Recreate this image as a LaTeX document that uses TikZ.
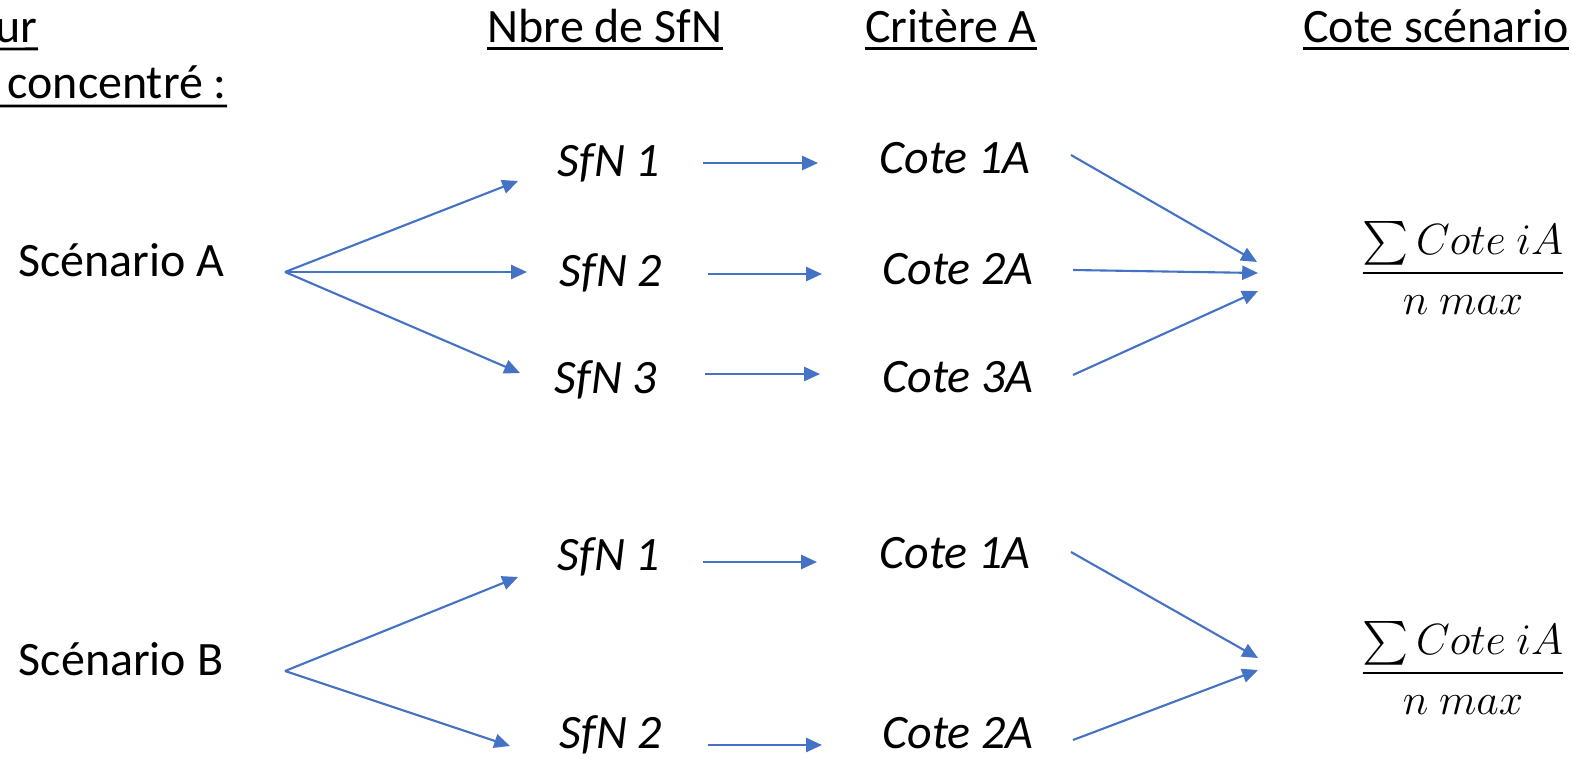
\documentclass[tikz,border=0pt]{standalone}
\usepackage{amsmath}
\usepackage{fontspec}
\setmainfont{Carlito}
\usetikzlibrary{arrows.meta}
\definecolor{arrowblue}{HTML}{4472C4}
\begin{document}
\begin{tikzpicture}[x=0.02cm,y=-0.02cm,
  lbl/.style={inner sep=0pt,anchor=base,font=\fontsize{27.3}{32}\selectfont},
  itl/.style={lbl,font=\fontsize{27.3}{32}\selectfont\itshape},
  frac/.style={inner sep=0pt,font=\fontsize{27}{32}\selectfont},
  conn/.style={draw=arrowblue,line width=1.2pt,-{Triangle[length=9pt,width=8pt]}},
  uline/.style={line width=1.6pt}]
\useasboundingbox (0,0) rectangle (1572,761);
% headers
\node[lbl,anchor=base east] (h0) at (38,42) {ur};
\node[lbl,anchor=base east] (h0b) at (227,98) {concentré :};
\node[lbl] (h1) at (605,42) {Nbre de SfN};
\node[lbl] (h2) at (951,42) {Critère A};
\node[lbl,anchor=base west] (h3) at (1303,42) {Cote scénario};
\draw[uline] (0,49) -- ([yshift=-3.9pt]h0.base east);
\draw[uline] (0,106) -- ([yshift=-4.5pt]h0b.base east);
\foreach \n in {h1,h2,h3}{\draw[uline] ([yshift=-3.6pt]\n.base west) -- ([yshift=-3.6pt]\n.base east);}
% scenario A
\node[lbl] (sa) at (121,276) {Scénario A};
\node[itl] (sfA1) at (609,176) {SfN 1};
\node[itl] (sfA2) at (611,286) {SfN 2};
\node[itl] (sfA3) at (606,393) {SfN 3};
\node[itl] (coA1) at (955,173) {Cote 1A};
\node[itl] (coA2) at (958,284) {Cote 2A};
\node[itl] (coA3) at (958,392) {Cote 3A};
\node[frac] (frA) at (1463,268) {$\dfrac{\sum Cote\ iA}{n\ max}$};
\coordinate (fa) at (285,272);
\coordinate (fa1) at (518,181);
\coordinate (fa2) at (527,272);
\coordinate (fa3) at (520,373);
\coordinate (ma1s) at (703,163); \coordinate (ma1e) at (818,163);
\coordinate (ma2s) at (708,274); \coordinate (ma2e) at (822,274);
\coordinate (ma3s) at (705,374); \coordinate (ma3e) at (820,374);
\coordinate (ra1s) at (1071,155); \coordinate (ra1e) at (1257,262);
\coordinate (ra2s) at (1073,270); \coordinate (ra2e) at (1258,273);
\coordinate (ra3s) at (1073,375); \coordinate (ra3e) at (1258,291);
\foreach \e in {fa1,fa2,fa3}{\draw[conn] (fa) -- (\e);}
\foreach \i in {1,2,3}{\draw[conn] (ma\i s) -- (ma\i e); \draw[conn] (ra\i s) -- (ra\i e);}
% scenario B
\node[lbl] (sb) at (121,675) {Scénario B};
\node[itl] (sfB1) at (609,570) {SfN 1};
\node[itl] (sfB2) at (611,748) {SfN 2};
\node[itl] (coB1) at (955,568) {Cote 1A};
\node[itl] (coB2) at (958,748) {Cote 2A};
\node[frac] (frB) at (1463,668) {$\dfrac{\sum Cote\ iA}{n\ max}$};
\coordinate (fb) at (285,671);
\coordinate (fb1) at (518,577);
\coordinate (fb2) at (510,746);
\coordinate (mb1s) at (703,562); \coordinate (mb1e) at (817,562);
\coordinate (mb2s) at (708,745); \coordinate (mb2e) at (822,745);
\coordinate (rb1s) at (1071,552); \coordinate (rb1e) at (1258,658);
\coordinate (rb2s) at (1073,740); \coordinate (rb2e) at (1258,670);
\draw[conn] (fb) -- (fb1);
\draw[conn] (fb) -- (fb2);
\draw[conn] (mb1s) -- (mb1e);
\draw[conn] (mb2s) -- (mb2e);
\draw[conn] (rb1s) -- (rb1e);
\draw[conn] (rb2s) -- (rb2e);
\end{tikzpicture}
\end{document}
